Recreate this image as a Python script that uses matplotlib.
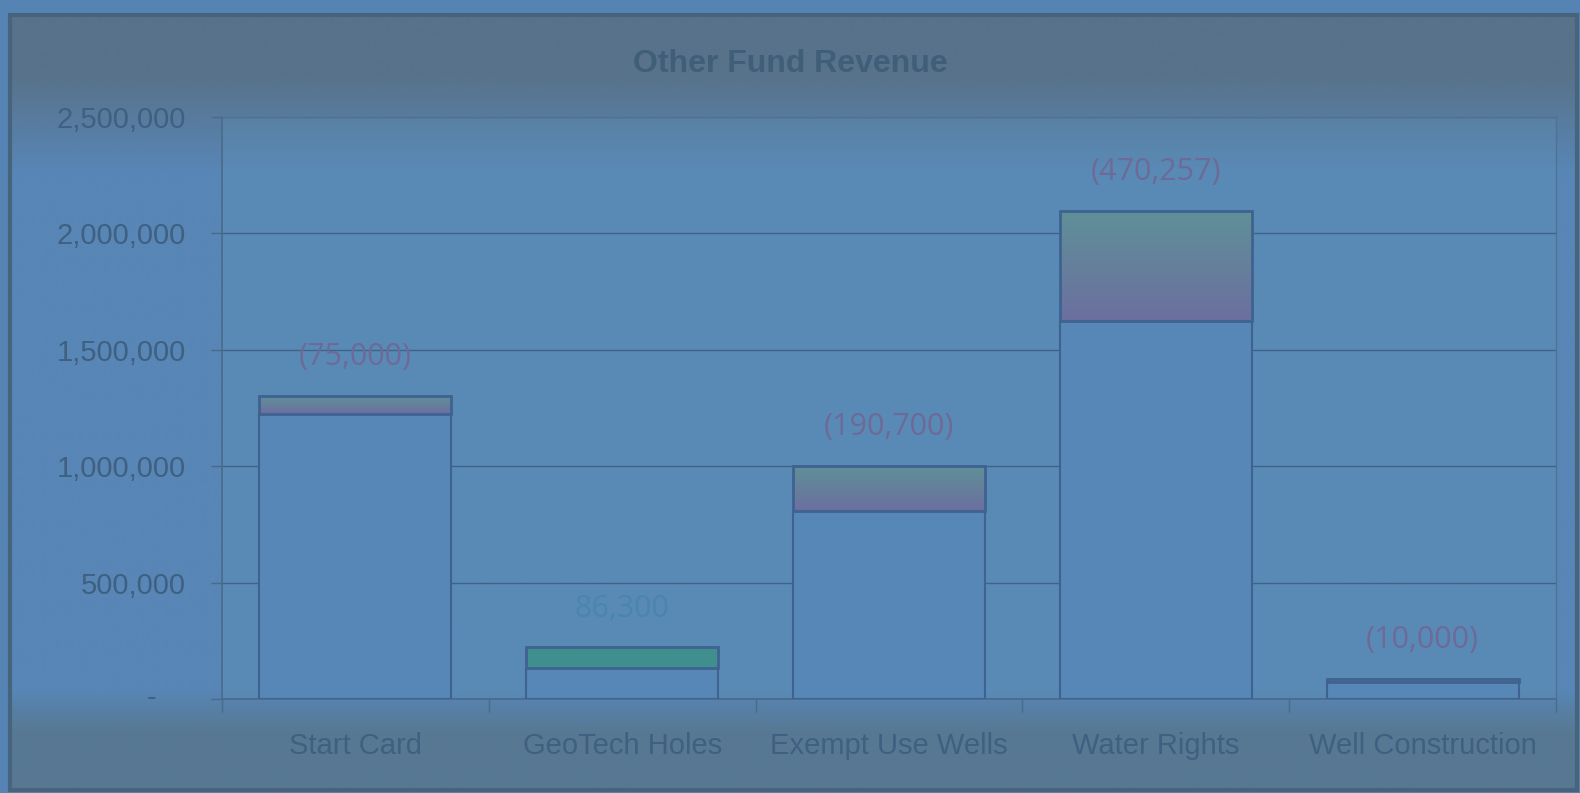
import numpy as np
import matplotlib
matplotlib.use("Agg")
import matplotlib.pyplot as plt
from matplotlib.patches import Rectangle
from matplotlib.ticker import FuncFormatter

# ---- data ----
categories = ["Start Card", "GeoTech Holes", "Exempt Use Wells", "Water Rights", "Well Construction"]
base_values = [1225000, 135000, 809300, 1625000, 75000]
change_values = [-75000, 86300, -190700, -470257, -10000]
yticks = [0, 500000, 1000000, 1500000, 2000000, 2500000]
title = "Other Fund Revenue"

W, H = 1580, 793
fig = plt.figure(figsize=(W / 100, H / 100), dpi=100)
fig.patch.set_facecolor("#5583b4")

# ---- background (frame with gradient bands) ----
bg = fig.add_axes([0, 0, 1, 1], zorder=-10)
bg.set_xlim(0, W); bg.set_ylim(H, 0); bg.axis("off")
rows = np.arange(H)
top_c = np.array(matplotlib.colors.to_rgb("#58728a"))
mid_c = np.array(matplotlib.colors.to_rgb("#5886b6"))
bot_c = np.array(matplotlib.colors.to_rgb("#577892"))
t1 = np.clip((rows - 60) / 100.0, 0, 1)[:, None]
t2 = np.clip((rows - 690) / 45.0, 0, 1)[:, None]
col = top_c * (1 - t1) + mid_c * t1
col = col * (1 - t2) + bot_c * t2
img = np.repeat(col[:, None, :], 2, axis=1)
bg.imshow(img, extent=[10, 1577, 790, 15], aspect="auto", interpolation="bilinear")
bg.add_patch(Rectangle((10, 15), 1567, 775, fill=False, ec="#46647c", lw=3))

# ---- main axes ----
fs = 21
ax = fig.add_axes([222 / W, 1 - 699 / H, (1556 - 222) / W, (699 - 117) / H])
ax.set_facecolor((0.38, 0.60, 0.72, 0.22))
x = np.arange(len(categories))
width = 0.72
edge = "#3f6290"

ax.bar(x, base_values, width, color="#5787b7", edgecolor=edge, lw=1.5, zorder=3)
seg_h = [abs(c) for c in change_values]
seg = ax.bar(x, seg_h, width, bottom=base_values, color="none", edgecolor=edge, lw=2, zorder=5)

grad = np.linspace(0, 1, 64)[:, None]
c_top = np.array(matplotlib.colors.to_rgb("#5f9098"))
c_bot = np.array(matplotlib.colors.to_rgb("#6c6fa0"))
for p, c in zip(seg.patches, change_values):
    x0, w = p.get_x(), p.get_width()
    y0, h = p.get_y(), p.get_height()
    if c < 0:
        g = c_top * (1 - grad[..., None]) + c_bot * grad[..., None]
        g = np.repeat(g, 2, axis=1)
        ax.imshow(g, extent=[x0, x0 + w, y0, y0 + h], aspect="auto", zorder=4,
                  interpolation="bilinear")
    else:
        ax.add_patch(Rectangle((x0, y0), w, h, color="#3f8f8e", zorder=4))

for xi, b, c in zip(x, base_values, change_values):
    top = b + abs(c)
    txt = f"({abs(c):,})" if c < 0 else f"{c:,}"
    color = "#6d6a98" if c < 0 else "#4a86ac"
    ax.annotate(txt, (xi, top), xytext=(0, 28), textcoords="offset points",
                ha="center", va="center", fontsize=22, color=color,
                family=["Open Sans", "DejaVu Sans"], zorder=6)

ax.set_xlim(-0.5, len(categories) - 0.5)
ax.set_ylim(0, 2500000)
ax.set_yticks(yticks)
ax.yaxis.set_major_formatter(FuncFormatter(lambda v, p: f"{int(v):,}" if v > 0 else ""))
ax.grid(axis="y", color="#3f6388", lw=1, zorder=1)
ax.set_axisbelow(True)

ax.set_xticks(x)
ax.set_xticklabels(categories)
ax.set_xticks(np.arange(len(categories) + 1) - 0.5, minor=True)
ax.tick_params(axis="x", which="major", length=0, pad=24, labelsize=fs, labelcolor="#3f6080")
ax.tick_params(axis="x", which="minor", length=9, color="#4a6a8a", width=1)
ax.tick_params(axis="y", length=8, color="#4a6a8a", width=1, pad=18, labelsize=fs,
               labelcolor="#3f6080")
for lab in ax.get_xticklabels() + ax.get_yticklabels():
    lab.set_family(["Liberation Sans", "DejaVu Sans"])

ax.annotate("-", xy=(0, 0), xycoords=("axes fraction", "data"), xytext=(-51, 1),
            textcoords="offset points", ha="center", va="center", fontsize=fs,
            color="#3f6080", family=["Liberation Sans", "DejaVu Sans"])

for s in ["top", "right"]:
    ax.spines[s].set_color("#4f7294")
    ax.spines[s].set_linewidth(1)
for s in ["left", "bottom"]:
    ax.spines[s].set_color("#4a6a8a")
    ax.spines[s].set_linewidth(1.2)

fig.text(790 / W, 1 - 64 / H, title, ha="center", va="center", fontsize=23,
         fontweight="bold", color="#3f5e78", family=["Liberation Sans", "DejaVu Sans"])

fig.savefig("out.png", dpi=100, facecolor=fig.get_facecolor())
